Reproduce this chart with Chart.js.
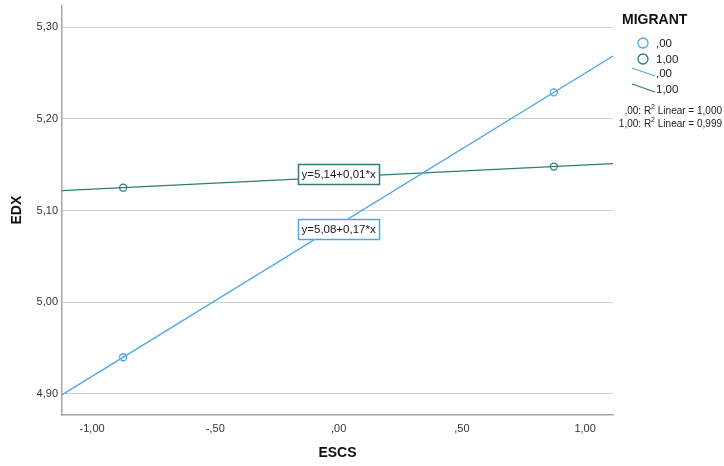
<!DOCTYPE html>
<html>
<head>
<meta charset="utf-8">
<script src="https://cdn.jsdelivr.net/npm/chart.js@4"></script>
<style>
  html, body { margin: 0; padding: 0; background: #ffffff; }
  canvas { display: block; }
</style>
</head>
<body>
<canvas id="chart" width="724" height="466"></canvas>
<script>
// Group means of ESCS and EDX for each MIGRANT group
const groupLabels = [',00', '1,00'];
const escsMeans = [-0.874, 0.873];
const edxMigrant0 = [4.940, 5.229];
const edxMigrant1 = [5.125, 5.148];
const rSquared = [1.000, 0.999];

// Axis ticks
const xTickValues = [-1, -0.5, 0, 0.5, 1];
const xTickLabels = ['-1,00', '-,50', ',00', ',50', '1,00'];
const yTickValues = [4.9, 5.0, 5.1, 5.2, 5.3];
const yTickLabels = ['4,90', '5,00', '5,10', '5,20', '5,30'];

const X_MIN = -1.122, X_MAX = 1.113;
const Y_MIN = 4.877, Y_MAX = 5.324;

const colors = ['#4aa9ea', '#2c7d76'];
const FONT = 'Liberation Sans, Arial, Helvetica, sans-serif';

// Ordinary least squares fit: returns [intercept, slope]
function linearFit(xs, ys) {
  const n = xs.length;
  const mx = xs.reduce((a, b) => a + b, 0) / n;
  const my = ys.reduce((a, b) => a + b, 0) / n;
  let sxy = 0, sxx = 0;
  for (let i = 0; i < n; i++) {
    sxy += (xs[i] - mx) * (ys[i] - my);
    sxx += (xs[i] - mx) * (xs[i] - mx);
  }
  const b = sxy / sxx;
  return [my - b * mx, b];
}

const fits = [linearFit(escsMeans, edxMigrant0), linearFit(escsMeans, edxMigrant1)];
const fmt = (v, d) => v.toFixed(d).replace('.', ',');

function fitLine(fit) {
  return [X_MIN, X_MAX].map(x => ({ x: x, y: fit[0] + fit[1] * x }));
}
function points(ys) {
  return escsMeans.map((x, i) => ({ x: x, y: ys[i] }));
}

// Equation boxes, legend and R² notes
const annotations = {
  id: 'annotations',
  afterDatasetsDraw(chart) {
    const ctx = chart.ctx;
    const xs = chart.scales.x, ys = chart.scales.y;
    ctx.save();

    // equation boxes centred at x = 0, y = rounded intercept
    ctx.font = '11.5px ' + FONT;
    ctx.textAlign = 'center';
    ctx.textBaseline = 'middle';
    fits.forEach((f, i) => {
      const txt = 'y=' + fmt(f[0], 2) + '+' + fmt(f[1], 2) + '*x';
      const cx = xs.getPixelForValue(0);
      const cy = ys.getPixelForValue(Number(f[0].toFixed(2)));
      const w = ctx.measureText(txt).width + 7, h = 20;
      ctx.fillStyle = '#ffffff';
      ctx.fillRect(cx - w / 2, cy - h / 2, w, h);
      ctx.strokeStyle = colors[i];
      ctx.lineWidth = 1.5;
      ctx.strokeRect(Math.round(cx - w / 2) + 0.5, Math.round(cy - h / 2) + 0.5, Math.round(w), h);
      ctx.fillStyle = '#1a1a1a';
      ctx.fillText(txt, cx, cy + 0.5);
    });

    // legend
    ctx.textAlign = 'left';
    ctx.fillStyle = '#111111';
    ctx.font = 'bold 14px ' + FONT;
    ctx.fillText('MIGRANT', 622, 20);

    ctx.font = '11.5px ' + FONT;
    groupLabels.forEach((lab, i) => {
      const y = 43 + i * 16;
      ctx.beginPath();
      ctx.arc(643, y, 5, 0, Math.PI * 2);
      ctx.strokeStyle = colors[i];
      ctx.lineWidth = 1.3;
      ctx.stroke();
      ctx.fillStyle = '#222222';
      ctx.fillText(lab, 656, y + 0.5);
    });
    groupLabels.forEach((lab, i) => {
      const y = 73 + i * 16;
      ctx.beginPath();
      ctx.moveTo(632, y - 5);
      ctx.lineTo(655, y + 3);
      ctx.strokeStyle = colors[i];
      ctx.lineWidth = 1.3;
      ctx.stroke();
      ctx.fillStyle = '#222222';
      ctx.fillText(lab, 656, y + 0.5);
    });

    // R² notes, right aligned
    groupLabels.forEach((lab, i) => {
      const y = 111 + i * 13;
      const pre = lab + ': R';
      const sup = '2';
      const post = ' Linear = ' + fmt(rSquared[i], 3);
      ctx.font = '10px ' + FONT;
      const w1 = ctx.measureText(pre).width;
      const w3 = ctx.measureText(post).width;
      ctx.font = '7px ' + FONT;
      const w2 = ctx.measureText(sup).width;
      let x = 722 - (w1 + w2 + w3);
      ctx.fillStyle = '#222222';
      ctx.font = '10px ' + FONT;
      ctx.fillText(pre, x, y);
      ctx.font = '7px ' + FONT;
      ctx.fillText(sup, x + w1, y - 4);
      ctx.font = '10px ' + FONT;
      ctx.fillText(post, x + w1 + w2, y);
    });

    ctx.restore();
  }
};

new Chart(document.getElementById('chart'), {
  type: 'scatter',
  data: {
    datasets: [
      { type: 'line', data: fitLine(fits[0]), borderColor: colors[0], borderWidth: 1.3, pointRadius: 0, fill: false, order: 3 },
      { type: 'line', data: fitLine(fits[1]), borderColor: colors[1], borderWidth: 1.3, pointRadius: 0, fill: false, order: 3 },
      { data: points(edxMigrant0), borderColor: colors[0], backgroundColor: 'rgba(0,0,0,0)', pointRadius: 3.5, borderWidth: 1.3, order: 1 },
      { data: points(edxMigrant1), borderColor: colors[1], backgroundColor: 'rgba(0,0,0,0)', pointRadius: 3.5, borderWidth: 1.3, order: 1 }
    ]
  },
  options: {
    responsive: false,
    animation: false,
    devicePixelRatio: 1,
    layout: { padding: { left: 0, top: 5, right: 111, bottom: 0 } },
    plugins: { legend: { display: false }, tooltip: { enabled: false } },
    scales: {
      x: {
        type: 'linear',
        min: X_MIN, max: X_MAX,
        afterBuildTicks(s) { s.ticks = xTickValues.map(v => ({ value: v })); },
        afterFit(s) { s.height = 51; s.paddingLeft = 0; s.paddingRight = 0; },
        grid: { display: false, drawTicks: false },
        border: { display: true, color: '#a6a6a6', width: 1.5 },
        ticks: {
          padding: 7,
          color: '#333333',
          font: { family: FONT, size: 11 },
          maxRotation: 0,
          callback: (v, i) => xTickLabels[i]
        },
        title: {
          display: true, text: 'ESCS', color: '#111111',
          font: { family: FONT, size: 14, weight: 'bold' },
          padding: { top: 0, bottom: 4.5 }
        }
      },
      y: {
        type: 'linear',
        min: Y_MIN, max: Y_MAX,
        afterBuildTicks(s) { s.ticks = yTickValues.map(v => ({ value: v })); },
        afterFit(s) { s.width = 62; s.paddingTop = 0; s.paddingBottom = 0; },
        grid: { color: '#cfcfcf', lineWidth: 1, drawTicks: false },
        border: { display: true, color: '#a6a6a6', width: 1.5 },
        ticks: {
          padding: 4,
          color: '#333333',
          font: { family: FONT, size: 11 },
          callback: (v, i) => yTickLabels[i]
        },
        title: {
          display: true, text: 'EDX', color: '#111111',
          font: { family: FONT, size: 14, weight: 'bold' },
          padding: { top: 8.5, bottom: 0 }
        }
      }
    }
  },
  plugins: [annotations]
});
</script>
</body>
</html>
